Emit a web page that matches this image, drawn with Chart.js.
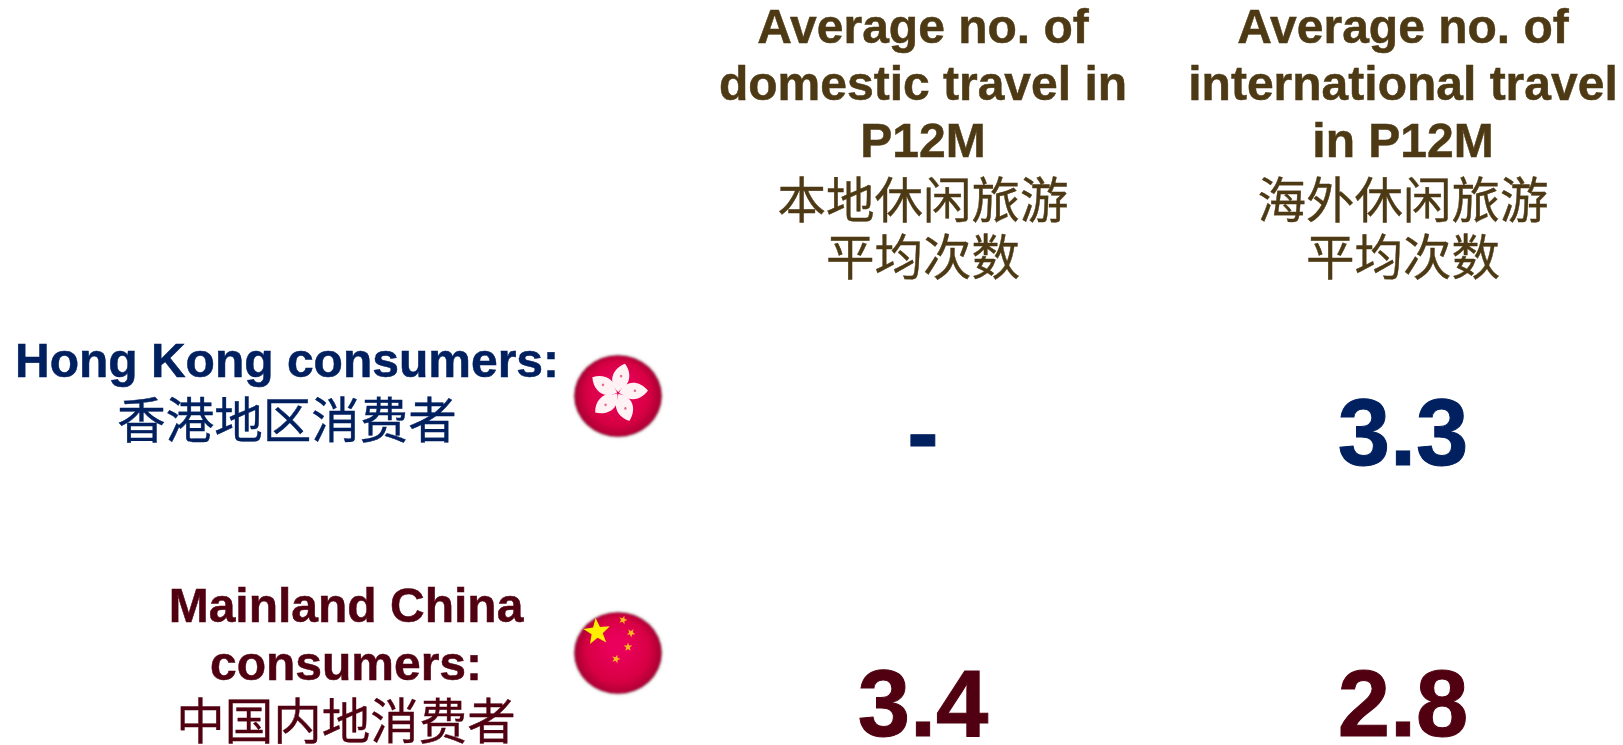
<!DOCTYPE html>
<html>
<head>
<meta charset="utf-8">
<title>Average number of trips</title>
<script src="https://cdn.jsdelivr.net/npm/chart.js@4"></script>
<style>
    html, body { margin: 0; padding: 0; background: #ffffff; }
    #wrap { width: 1623px; height: 745px; }
</style>
</head>
<body>
<div id="wrap"><canvas id="travel-chart" width="1623" height="745"></canvas></div>
<script>
const travelTypes = ["Domestic", "International"];
const consumerGroups = ["Hong Kong", "Mainland China"];
const domesticValues = [null, 3.4];
const internationalValues = [3.3, 2.8];

const domesticHeader = ["Average no. of", "domestic travel in", "P12M"];
const domesticHeaderCn = ["本地休闲旅游", "平均次数"];
const internationalHeader = ["Average no. of", "international travel", "in P12M"];
const internationalHeaderCn = ["海外休闲旅游", "平均次数"];
const hongKongLabel = ["Hong Kong consumers:"];
const hongKongLabelCn = ["香港地区消费者"];
const mainlandLabel = ["Mainland China", "consumers:"];
const mainlandLabelCn = ["中国内地消费者"];

const BROWN = "#4d3a14";
const NAVY = "#002060";
const MAROON = "#500010";
const LATIN_BOLD = 'bold 48px "Liberation Sans"';
const CJK = '48.5px "Noto Sans CJK SC"';

function text(ctx, str, x, y, font, color, stroke) {
    ctx.font = font;
    ctx.fillStyle = color;
    ctx.fillText(str, x, y);
    if (stroke) {
        ctx.strokeStyle = color;
        ctx.lineWidth = stroke;
        ctx.strokeText(str, x, y);
    }
}

function flagBase(ctx, x, y) {
    ctx.save();
    ctx.filter = "blur(0.8px)";
    ctx.beginPath();
    ctx.ellipse(x, y, 43.5, 40.5, 0, 0, Math.PI * 2);
    const g = ctx.createRadialGradient(x, y - 8, 8, x, y, 44);
    g.addColorStop(0, "#ea005c");
    g.addColorStop(0.65, "#d80044");
    g.addColorStop(1, "#a40030");
    ctx.fillStyle = g;
    ctx.shadowColor = "rgba(90,70,70,0.6)";
    ctx.shadowBlur = 3;
    ctx.fill();
    ctx.restore();
}

function star(ctx, x, y, r, rot) {
    ctx.beginPath();
    for (let i = 0; i < 10; i++) {
        const a = rot + i * Math.PI / 5 - Math.PI / 2;
        const rr = i % 2 ? r * 0.42 : r;
        ctx.lineTo(x + rr * Math.cos(a), y + rr * Math.sin(a));
    }
    ctx.closePath();
    ctx.fill();
}

function drawHongKongFlag(ctx, x, y) {
    flagBase(ctx, x, y);
    ctx.save();
    ctx.translate(x, y - 3);
    ctx.filter = "blur(0.6px)";
    for (let i = 0; i < 5; i++) {
        ctx.save();
        ctx.rotate(i * Math.PI * 2 / 5 + 0.3);
        ctx.fillStyle = "#fff2f5";
        ctx.beginPath();
        ctx.moveTo(0, -1);
        ctx.bezierCurveTo(-13, -7, -13, -21, -2, -30);
        ctx.bezierCurveTo(8, -23, 9, -11, 2, -5);
        ctx.closePath();
        ctx.fill();
        ctx.fillStyle = "#e86a90";
        ctx.beginPath();
        ctx.arc(-2, -17, 1.3, 0, Math.PI * 2);
        ctx.fill();
        ctx.restore();
    }
    ctx.restore();
}

function drawChinaFlag(ctx, x, y) {
    flagBase(ctx, x, y);
    ctx.save();
    ctx.filter = "blur(0.5px)";
    ctx.fillStyle = "#ffee00";
    star(ctx, x - 21, y - 21, 14, -0.1);
    ctx.fillStyle = "#ffb820";
    star(ctx, x + 5, y - 33, 4.5, 0.3);
    star(ctx, x + 13, y - 20, 4.5, 0.6);
    star(ctx, x + 10, y - 6, 4.5, 0);
    star(ctx, x - 2, y + 6, 4.5, 0.3);
    ctx.restore();
}

const tableText = {
    id: "tableText",
    afterDatasetsDraw(chart) {
        const { ctx, scales: { x, y } } = chart;
        ctx.save();
        ctx.textAlign = "center";
        ctx.textBaseline = "alphabetic";

        // column headers
        const heads = [
            [0, domesticHeader, domesticHeaderCn],
            [1, internationalHeader, internationalHeaderCn]
        ];
        heads.forEach(([col, en, cn]) => {
            const cx = x.getPixelForValue(col);
            en.forEach((l, i) => text(ctx, l, cx, 43 + i * 57, LATIN_BOLD, BROWN, 0.5));
            cn.forEach((l, i) => text(ctx, l, cx, 218 + i * 57, CJK, BROWN, 0.4));
        });

        // row labels, hung from the row positions
        const hk = y.getPixelForValue(0);
        const cnRow = y.getPixelForValue(1);
        hongKongLabel.forEach(l => text(ctx, l, 287, hk - 56, LATIN_BOLD, NAVY, 0.5));
        hongKongLabelCn.forEach(l => text(ctx, l, 287, hk + 5, CJK, NAVY, 0.4));
        mainlandLabel.forEach((l, i) => text(ctx, l, 346, cnRow - 82 + i * 58, LATIN_BOLD, MAROON, 0.5));
        mainlandLabelCn.forEach(l => text(ctx, l, 346, cnRow + 35, CJK, MAROON, 0.4));

        drawHongKongFlag(ctx, 618, hk - 37);
        drawChinaFlag(ctx, 618, cnRow - 51);

        // values, placed where the library put each point
        chart.data.datasets.forEach((ds, i) => {
            chart.getDatasetMeta(i).data.forEach((pt, j) => {
                const v = ds.data[j].v;
                const label = v === null ? "-" : v.toFixed(1);
                text(ctx, label, pt.x, pt.y + 32, 'bold 94px "Liberation Sans"', j === 0 ? NAVY : MAROON, 1);
            });
        });
        ctx.restore();
    }
};

function makeSeries(name, values) {
    return {
        label: name,
        data: values.map((v, i) => ({ x: name, y: consumerGroups[i], v })),
        pointRadius: 0,
        showLine: false
    };
}

document.fonts.load(CJK, "本地").finally(() => {
    new Chart(document.getElementById("travel-chart"), {
        type: "scatter",
        data: {
            datasets: [
                makeSeries(travelTypes[0], domesticValues),
                makeSeries(travelTypes[1], internationalValues)
            ]
        },
        options: {
            responsive: false,
            animation: false,
            layout: { padding: { left: 923, right: 220, top: 433, bottom: 41 } },
            plugins: { legend: { display: false }, tooltip: { enabled: false } },
            scales: {
                x: { type: "category", labels: travelTypes, offset: false, display: false },
                y: { type: "category", labels: consumerGroups, offset: false, display: false }
            }
        },
        plugins: [tableText]
    });
});
</script>
</body>
</html>
